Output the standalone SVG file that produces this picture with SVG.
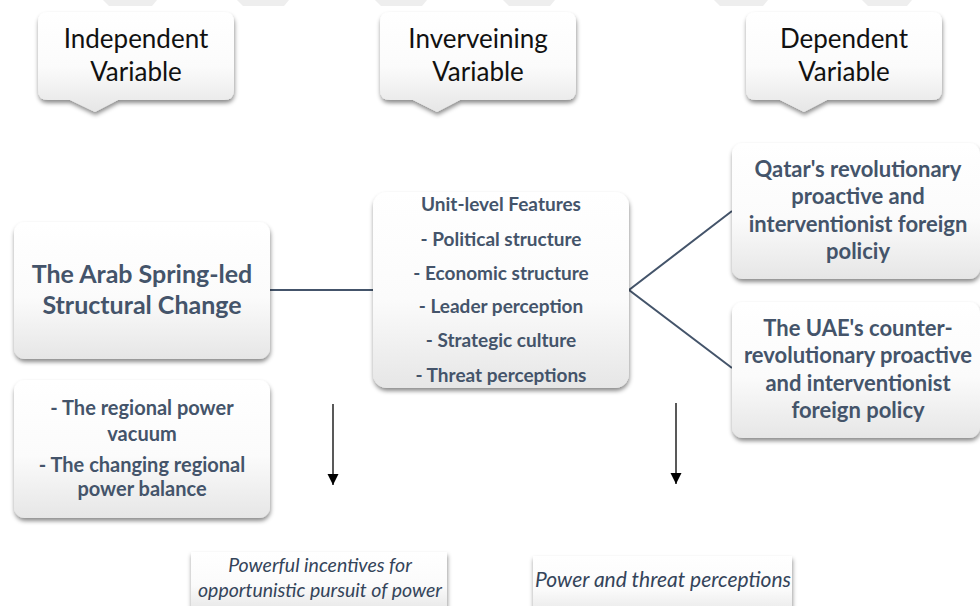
<svg xmlns="http://www.w3.org/2000/svg" width="980" height="606" viewBox="0 0 980 606">
<defs>
<linearGradient id="g" x1="0" y1="0" x2="0" y2="1">
<stop offset="0" stop-color="#ffffff"/>
<stop offset="0.55" stop-color="#fbfbfb"/>
<stop offset="1" stop-color="#e6e6e6"/>
</linearGradient>
<filter id="sh" x="-10%" y="-10%" width="120%" height="130%">
<feDropShadow dx="0.5" dy="3" stdDeviation="2.2" flood-color="#000" flood-opacity="0.45"/>
</filter>
<marker id="ah" viewBox="0 0 10 10" refX="10" refY="5" markerWidth="11" markerHeight="15" markerUnits="userSpaceOnUse" orient="auto">
<path d="M0,0 L10,5 L0,10 z" fill="#000"/>
</marker>
</defs>
<style>
.box{fill:url(#g);filter:url(#sh);}
.hd{font-family:Lato,"Open Sans","Liberation Sans",sans-serif;font-size:26px;fill:#111;text-anchor:middle;}
.bt{font-family:Lato,"Open Sans","Liberation Sans",sans-serif;font-weight:bold;fill:#44546A;text-anchor:middle;}
.it{font-family:Lato,"Open Sans","Liberation Sans",sans-serif;font-style:italic;fill:#34445a;text-anchor:middle;}
.ln{stroke:#44546A;stroke-width:2;fill:none;}
.ar{stroke:#222;stroke-width:1.5;fill:none;}
.faint{fill:#eeeeee;}
</style>
<rect width="980" height="606" fill="#ffffff"/>
<g id="top-fragments">
<polygon class="faint" points="103,0 157,0 152,6 109,6"/>
<polygon class="faint" points="237,0 289,0 284,6 243,6"/>
<polygon class="faint" points="375,0 427,0 422,6 381,6"/>
<polygon class="faint" points="503,0 555,0 550,6 509,6"/>
<polygon class="faint" points="714,0 768,0 763,6 720,6"/>
<polygon class="faint" points="862,0 912,0 907,6 868,6"/>
</g>
<g id="connectors">
<line class="ln" x1="270" y1="290" x2="373" y2="290"/>
<polyline class="ln" points="732,211 629,290 732,368"/>
<line class="ar" x1="333" y1="404" x2="333" y2="485" marker-end="url(#ah)"/>
<line class="ar" x1="676" y1="403" x2="676" y2="484" marker-end="url(#ah)"/>
</g>
<g id="independent-variable">
<path class="box" d="M48,12 H224 Q234,12 234,22 V90 Q234,100 224,100 H118 L95,112 L70,100 H48 Q38,100 38,90 V22 Q38,12 48,12 Z"/>
<text class="hd" x="136" y="48">Independent</text>
<text class="hd" x="136" y="81">Variable</text>
</g>
<g id="intervening-variable">
<path class="box" d="M390,12 H566 Q576,12 576,22 V90 Q576,100 566,100 H460 L437,112 L413,100 H390 Q380,100 380,90 V22 Q380,12 390,12 Z"/>
<text class="hd" x="478" y="48">Inverveining</text>
<text class="hd" x="478" y="81">Variable</text>
</g>
<g id="dependent-variable">
<path class="box" d="M756,12 H932 Q942,12 942,22 V90 Q942,100 932,100 H827 L804,112 L780,100 H756 Q746,100 746,90 V22 Q746,12 756,12 Z"/>
<text class="hd" x="844" y="48">Dependent</text>
<text class="hd" x="844" y="81">Variable</text>
</g>
<g id="arab-spring">
<rect class="box" x="14" y="222" width="256" height="137" rx="11"/>
<text class="bt" x="142" y="283" font-size="25">The Arab Spring-led</text>
<text class="bt" x="142" y="314" font-size="25">Structural Change</text>
</g>
<g id="regional-power">
<rect class="box" x="14" y="380" width="256" height="138" rx="11"/>
<text class="bt" x="142" y="415" font-size="20">- The regional power</text>
<text class="bt" x="142" y="441" font-size="20">vacuum</text>
<text class="bt" x="142" y="472" font-size="20">- The changing regional</text>
<text class="bt" x="142" y="496" font-size="20">power balance</text>
</g>
<g id="unit-level">
<rect class="box" x="373" y="192" width="256" height="196" rx="14"/>
<text class="bt" x="501" y="211" font-size="19">Unit-level Features</text>
<text class="bt" x="501" y="246" font-size="19">- Political structure</text>
<text class="bt" x="501" y="280" font-size="19">- Economic structure</text>
<text class="bt" x="501" y="313" font-size="19">- Leader perception</text>
<text class="bt" x="501" y="347" font-size="19">- Strategic culture</text>
<text class="bt" x="501" y="382" font-size="19">- Threat perceptions</text>
</g>
<g id="qatar">
<rect class="box" x="732" y="143" width="248" height="136" rx="11"/>
<text class="bt" x="858" y="177" font-size="22">Qatar's revolutionary</text>
<text class="bt" x="858" y="204" font-size="22">proactive and</text>
<text class="bt" x="858" y="232" font-size="22">interventionist foreign</text>
<text class="bt" x="858" y="259" font-size="22">policiy</text>
</g>
<g id="uae">
<rect class="box" x="732" y="302" width="248" height="136" rx="11"/>
<text class="bt" x="858" y="336" font-size="22">The UAE's counter-</text>
<text class="bt" x="858" y="363" font-size="22">revolutionary proactive</text>
<text class="bt" x="858" y="391" font-size="22">and interventionist</text>
<text class="bt" x="858" y="418" font-size="22">foreign policy</text>
</g>
<g id="incentives">
<rect class="box" x="191" y="552" width="256" height="60"/>
<text class="it" x="320" y="572" font-size="19.5">Powerful incentives for</text>
<text class="it" x="320" y="597" font-size="19.5">opportunistic pursuit of power</text>
</g>
<g id="perceptions">
<rect class="box" x="533" y="556" width="259" height="60"/>
<text class="it" x="663" y="587" font-size="21">Power and threat perceptions</text>
</g>
</svg>
